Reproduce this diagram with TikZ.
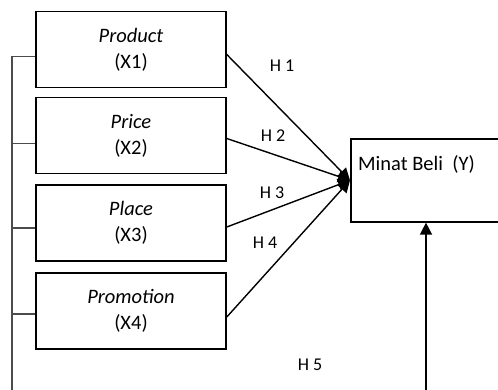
\documentclass[tikz,border=0pt]{standalone}
\usepackage{fontspec}
\setmainfont{Carlito}
\usetikzlibrary{arrows.meta}
\tikzset{
  var/.style={draw,line width=1.6pt,minimum width=190,minimum height=76,
    align=center,inner sep=0,font=\fontsize{20.5}{26}\selectfont},
  hyp/.style={font=\fontsize{18}{20}\selectfont,inner sep=0},
  arr/.style={-{Triangle[length=12pt,width=12pt]},line width=1.4pt},
  brk/.style={line width=1.1pt,black!70}
}

\begin{document}
\begin{tikzpicture}[x=1pt,y=-1pt]
    \useasboundingbox (0,0) rectangle (498,390);
    \clip (0,0) rectangle (498,390);

    \node[var] (x1) at (131,49.5) {\textit{Product}\\(X1)};
    \node[var] (x2) at (131,135.5) {\textit{Price}\\(X2)};
    \node[var] (x3) at (131,223) {\textit{Place}\\(X3)};
    \node[var] (x4) at (131,311) {\textit{Promotion}\\(X4)};

    \node[draw,line width=1.6pt,minimum width=180,minimum height=83,
      anchor=north west] (y) at (350,138) {};
    \node[anchor=west,inner sep=0,font=\fontsize{20.5}{24}\selectfont]
      (ylab) at (358,164) {Minat Beli\ \ (Y)};

    \draw[arr] ([yshift=-5pt]x1.east) -- (y.west);
    \draw[arr] ([yshift=-3pt]x2.east) -- (y.west);
    \draw[arr] ([yshift=-4pt]x3.east) -- (y.west);
    \draw[arr] ([yshift=-6pt]x4.east) -- (y.west);

    \node[hyp] (h1) at (282,66) {H 1};
    \node[hyp] (h2) at (273,136) {H 2};
    \node[hyp] (h3) at (272,193) {H 3};
    \node[hyp] (h4) at (265,243) {H 4};
    \node[hyp] (h5) at (310,365) {H 5};

    % bracket on the left, joined to the arrow below the page edge
    \coordinate (bl) at (12,400);
    \coordinate (br) at (426,400);
    \draw[brk] ([yshift=-7pt]x1.west) -| (bl) -- (br);
    \foreach \v/\s in {x2/-8,x3/-5,x4/-3}
      \draw[brk] ([yshift=\s pt]\v.west) -- ([yshift=\s pt]\v.west -| bl);
    \draw[arr] (br) -- (y.south -| br);
\end{tikzpicture}
\end{document}
